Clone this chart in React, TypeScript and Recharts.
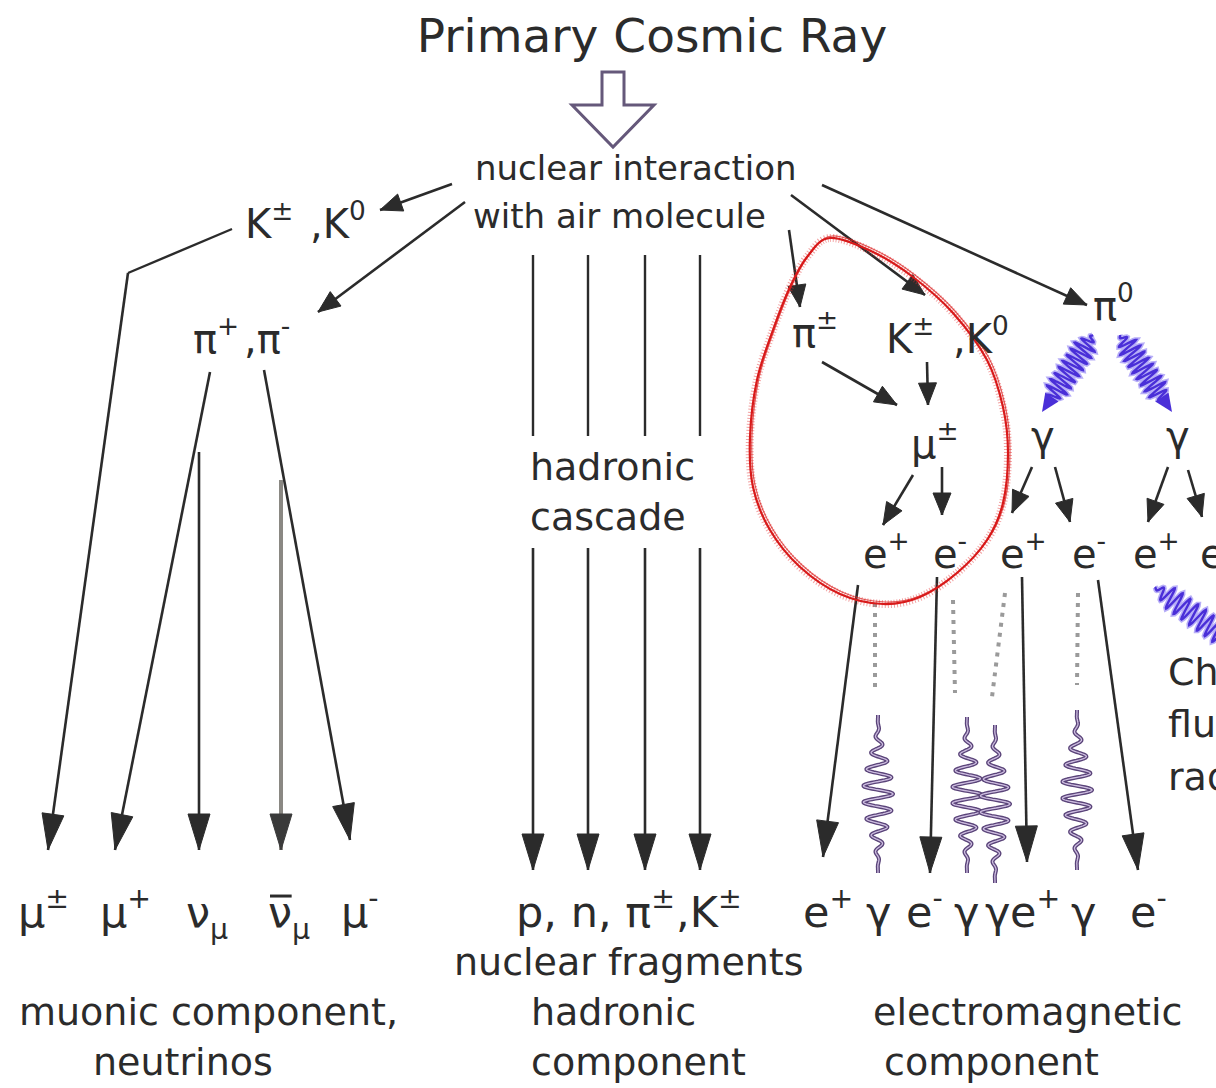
import React from "react";
import { ReferenceLine, Scatter, ScatterChart, XAxis, YAxis } from "recharts";

// Diagram space is 1216 x 1088, y grows downward (the y axis is reversed).
const WIDTH = 1216;
const HEIGHT = 1088;
const FONT = '"DejaVu Sans", "Liberation Sans", sans-serif';
const INK = "#2b2b2b";

type Role = "title" | "lead" | "node" | "product" | "caption";

interface Label {
  x: number;
  y: number;
  text: string;
  role: Role;
  sup?: string;
  sub?: string;
  bar?: boolean;
  anchor?: "start" | "middle";
}

type Segment = [number, number, number, number];

const FONT_SIZE: Record<Role, number> = {
  title: 47,
  lead: 34,
  node: 40,
  product: 43,
  caption: 38,
};

const TITLE_LABELS: Label[] = [
  { x: 652, y: 52, text: "Primary Cosmic Ray", role: "title", anchor: "middle" },
  { x: 475, y: 180, text: "nuclear interaction", role: "lead" },
  { x: 473, y: 228, text: "with air molecule", role: "lead" },
];

const SECONDARY_LABELS: Label[] = [
  { x: 245, y: 238, text: "K", sup: "±", role: "node" },
  { x: 310, y: 238, text: ",K", sup: "0", role: "node" },
  { x: 193, y: 353, text: "π", sup: "+", role: "node" },
  { x: 244, y: 353, text: ",π", sup: "-", role: "node" },
  { x: 792, y: 347, text: "π", sup: "±", role: "node" },
  { x: 886, y: 353, text: "K", sup: "±", role: "node" },
  { x: 953, y: 353, text: ",K", sup: "0", role: "node" },
  { x: 1093, y: 320, text: "π", sup: "0", role: "node" },
  { x: 911, y: 458, text: "μ", sup: "±", role: "node" },
  { x: 1031, y: 450, text: "γ", role: "node" },
  { x: 1166, y: 450, text: "γ", role: "node" },
  { x: 863, y: 568, text: "e", sup: "+", role: "node" },
  { x: 933, y: 568, text: "e", sup: "-", role: "node" },
  { x: 1000, y: 568, text: "e", sup: "+", role: "node" },
  { x: 1072, y: 568, text: "e", sup: "-", role: "node" },
  { x: 1133, y: 568, text: "e", sup: "+", role: "node" },
  { x: 1200, y: 568, text: "e", sup: "-", role: "node" },
  { x: 530, y: 480, text: "hadronic", role: "caption" },
  { x: 530, y: 530, text: "cascade", role: "caption" },
  { x: 1168, y: 685, text: "Cherenkov", role: "caption" },
  { x: 1168, y: 737, text: "fluorescence", role: "caption" },
  { x: 1168, y: 790, text: "radiation", role: "caption" },
];

const PRODUCT_LABELS: Label[] = [
  { x: 18, y: 927, text: "μ", sup: "±", role: "product" },
  { x: 100, y: 927, text: "μ", sup: "+", role: "product" },
  { x: 186, y: 927, text: "ν", sub: "μ", role: "product" },
  { x: 268, y: 927, text: "ν", sub: "μ", bar: true, role: "product" },
  { x: 341, y: 927, text: "μ", sup: "-", role: "product" },
  { x: 516, y: 927, text: "p, n, π", sup: "±", role: "product" },
  { x: 676, y: 927, text: ",K", sup: "±", role: "product" },
  { x: 803, y: 927, text: "e", sup: "+", role: "product" },
  { x: 866, y: 927, text: "γ", role: "product" },
  { x: 906, y: 927, text: "e", sup: "-", role: "product" },
  { x: 954, y: 927, text: "γ", role: "product" },
  { x: 985, y: 927, text: "γ", role: "product" },
  { x: 1010, y: 927, text: "e", sup: "+", role: "product" },
  { x: 1071, y: 927, text: "γ", role: "product" },
  { x: 1130, y: 927, text: "e", sup: "-", role: "product" },
];

const COMPONENT_LABELS: Label[] = [
  { x: 454, y: 975, text: "nuclear fragments", role: "caption" },
  { x: 19, y: 1025, text: "muonic component,", role: "caption" },
  { x: 93, y: 1075, text: "neutrinos", role: "caption" },
  { x: 531, y: 1025, text: "hadronic", role: "caption" },
  { x: 531, y: 1075, text: "component", role: "caption" },
  { x: 873, y: 1025, text: "electromagnetic", role: "caption" },
  { x: 884, y: 1075, text: "component", role: "caption" },
];

// plain connecting lines, no arrowhead
const PLAIN_LINES: Segment[] = [
  [232, 229, 128, 273],
  [533, 255, 533, 436],
  [588, 255, 588, 436],
  [645, 255, 645, 436],
  [700, 255, 700, 436],
];

// short decay arrows near the top of the shower
const SHORT_ARROWS: Segment[] = [
  [452, 184, 380, 210],
  [465, 202, 318, 312],
  [789, 230, 800, 307],
  [791, 195, 925, 295],
  [822, 185, 1087, 305],
  [822, 362, 897, 405],
  [927, 362, 928, 405],
  [913, 475, 883, 525],
  [942, 467, 942, 515],
  [1032, 467, 1012, 513],
  [1055, 467, 1070, 522],
  [1168, 467, 1148, 522],
  [1188, 470, 1202, 517],
];

// long arrows down to the ground-level products
const LONG_ARROWS: Segment[] = [
  [128, 273, 48, 850],
  [210, 372, 115, 850],
  [199, 452, 199, 850],
  [264, 370, 350, 840],
  [533, 548, 533, 870],
  [588, 548, 588, 870],
  [645, 548, 645, 870],
  [700, 548, 700, 870],
  [858, 585, 823, 857],
  [937, 577, 930, 873],
  [1022, 577, 1027, 862],
  [1098, 580, 1138, 870],
];

const FAINT_ARROWS: Segment[] = [[281, 480, 281, 850]];

const DOTTED_LINES: Segment[] = [
  [875, 603, 875, 693],
  [953, 600, 955, 693],
  [1005, 593, 992, 697],
  [1078, 593, 1077, 685],
];

const PHOTON_PACKETS: Segment[] = [
  [878, 715, 878, 873],
  [967, 717, 967, 873],
  [995, 725, 995, 883],
  [1077, 710, 1077, 870],
];

const PION_DECAY_PHOTONS: Segment[] = [
  [1093, 335, 1042, 412],
  [1120, 335, 1172, 412],
];

const CHERENKOV_PHOTON: Segment[] = [[1155, 587, 1240, 648]];

const HOLLOW_ARROW: Segment[] = [[613, 72, 613, 147]];

const LOOP_OUTLINE: [number, number][] = [
  [830, 238], [873, 252], [913, 277], [953, 313], [987, 360], [1003, 407],
  [1008, 453], [1003, 503], [987, 540], [957, 573], [920, 597], [883, 604],
  [840, 594], [800, 567], [770, 530], [753, 487], [750, 437], [757, 380],
  [773, 330], [790, 287], [807, 257],
];

const toPoint = ([x, y, x2, y2]: Segment) => ({ x, y, x2, y2 });

function LabelShape(props: any) {
  const { cx, cy, payload } = props;
  const l = payload as Label;
  const size = FONT_SIZE[l.role];
  const small = size * 0.66;
  return (
    <g>
      <text
        x={cx}
        y={cy}
        fontFamily={FONT}
        fontSize={size}
        fill={INK}
        textAnchor={l.anchor ?? "start"}
      >
        <tspan>{l.text}</tspan>
        {l.sup ? (
          <tspan fontSize={small} dy={-size * 0.45}>
            {l.sup}
          </tspan>
        ) : null}
        {l.sub ? (
          <tspan fontSize={small} dy={size * 0.28}>
            {l.sub}
          </tspan>
        ) : null}
      </text>
      {l.bar ? (
        <line
          x1={cx + 2}
          x2={cx + size * 0.55}
          y1={cy - size * 0.72}
          y2={cy - size * 0.72}
          stroke={INK}
          strokeWidth={3}
        />
      ) : null}
    </g>
  );
}

function headPolygon(cx: number, cy: number, dx: number, dy: number, len: number, half: number) {
  const d = Math.hypot(dx, dy) || 1;
  const ux = dx / d;
  const uy = dy / d;
  const bx = cx - ux * len;
  const by = cy - uy * len;
  return `${cx},${cy} ${bx - uy * half},${by + ux * half} ${bx + uy * half},${by - ux * half}`;
}

// arrowhead drawn at the segment's end point (x2, y2)
function makeHead(len: number, half: number, fill: string) {
  return function HeadShape(props: any) {
    const { cx, cy, payload } = props;
    const dx = payload.x2 - payload.x;
    const dy = payload.y2 - payload.y;
    const tx = cx + dx;
    const ty = cy + dy;
    return <polygon points={headPolygon(tx, ty, dx, dy, len, half)} fill={fill} stroke={fill} strokeWidth={1} />;
  };
}

function wavePoints(
  x: number,
  y: number,
  dx: number,
  dy: number,
  cycles: number,
  amp: number,
  steps: number,
  packet: boolean,
) {
  const len = Math.hypot(dx, dy) || 1;
  const px = -dy / len;
  const py = dx / len;
  const pts: string[] = [];
  for (let i = 0; i <= steps; i++) {
    const t = i / steps;
    const env = packet ? Math.pow(Math.sin(Math.PI * t), 2) : Math.min(1, t * 6, (1 - t) * 6);
    const a = amp * env * Math.sin(2 * Math.PI * cycles * t);
    pts.push(`${(x + dx * t + px * a).toFixed(1)},${(y + dy * t + py * a).toFixed(1)}`);
  }
  return pts.join(" ");
}

function PacketShape(props: any) {
  const { cx, cy, payload } = props;
  const pts = wavePoints(cx, cy, payload.x2 - payload.x, payload.y2 - payload.y, 9.5, 15, 240, true);
  return (
    <g fill="none" strokeLinejoin="round">
      <polyline points={pts} stroke="#5a4479" strokeWidth={4} />
      <polyline points={pts} stroke="#cdbde0" strokeWidth={1.3} />
    </g>
  );
}

function ZigzagShape(props: any) {
  const { cx, cy, payload } = props;
  const dx = payload.x2 - payload.x;
  const dy = payload.y2 - payload.y;
  const d = Math.hypot(dx, dy);
  const endX = cx + (dx / d) * (d - 12);
  const endY = cy + (dy / d) * (d - 12);
  const pts = wavePoints(cx, cy, endX - cx, endY - cy, 11, 11, 180, false);
  return (
    <g fill="none" strokeLinejoin="miter">
      <polyline points={pts} stroke="#7b6cf0" strokeWidth={5.5} opacity={0.55} />
      <polyline points={pts} stroke="#4a2fd8" strokeWidth={2.4} />
      <polygon points={headPolygon(cx + dx, cy + dy, dx, dy, 18, 8)} fill="#4a2fd8" />
    </g>
  );
}

function OpenWaveShape(props: any) {
  const { cx, cy, payload } = props;
  const pts = wavePoints(cx, cy, payload.x2 - payload.x, payload.y2 - payload.y, 11, 11, 180, false);
  return (
    <g fill="none">
      <polyline points={pts} stroke="#7b6cf0" strokeWidth={5.5} opacity={0.55} />
      <polyline points={pts} stroke="#4a2fd8" strokeWidth={2.4} />
    </g>
  );
}

function HollowArrowShape(props: any) {
  const { cx, cy, payload } = props;
  const tip = cy + (payload.y2 - payload.y);
  const neck = tip - 42;
  const pts = [
    [cx - 11, cy], [cx + 11, cy], [cx + 11, neck], [cx + 41, neck],
    [cx, tip], [cx - 41, neck], [cx - 11, neck],
  ]
    .map((p) => p.join(","))
    .join(" ");
  return <polygon points={pts} fill="#ffffff" stroke="#65587a" strokeWidth={3} strokeLinejoin="miter" />;
}

function loopPath(pts: [number, number][]) {
  const n = pts.length;
  let d = `M${pts[0][0]},${pts[0][1]}`;
  for (let i = 0; i < n; i++) {
    const p0 = pts[(i - 1 + n) % n];
    const p1 = pts[i];
    const p2 = pts[(i + 1) % n];
    const p3 = pts[(i + 2) % n];
    const c1x = p1[0] + (p2[0] - p0[0]) / 6;
    const c1y = p1[1] + (p2[1] - p0[1]) / 6;
    const c2x = p2[0] - (p3[0] - p1[0]) / 6;
    const c2y = p2[1] - (p3[1] - p1[1]) / 6;
    d += ` C${c1x.toFixed(1)},${c1y.toFixed(1)} ${c2x.toFixed(1)},${c2y.toFixed(1)} ${p2[0]},${p2[1]}`;
  }
  return d + "Z";
}

function LoopShape(props: any) {
  const { cx, cy, payload } = props;
  const ox = cx - payload.x;
  const oy = cy - payload.y;
  const pts = LOOP_OUTLINE.map(([x, y]) => [x + ox, y + oy] as [number, number]);
  const d = loopPath(pts);
  return (
    <g fill="none">
      <path d={d} stroke="#e23030" strokeWidth={8} opacity={0.45} strokeDasharray="1 2" />
      <path d={d} stroke="#d81a1a" strokeWidth={2.2} />
      <path d={d} stroke="#d81a1a" strokeWidth={1.2} transform="translate(2 -2)" opacity={0.7} />
    </g>
  );
}

function segmentLines(list: Segment[], stroke: string, width: number, dash?: string) {
  return list.map(([x1, y1, x2, y2], i) => (
    <ReferenceLine
      key={`${stroke}-${width}-${i}-${x1}-${y1}`}
      segment={[
        { x: x1, y: y1 },
        { x: x2, y: y2 },
      ]}
      stroke={stroke}
      strokeWidth={width}
      strokeDasharray={dash}
      ifOverflow="visible"
    />
  ));
}

const ShortHead = makeHead(22, 9, INK);
const LongHead = makeHead(36, 11, INK);
const FaintHead = makeHead(36, 11, "#3a3a3a");

export default function App() {
  const labels = [...TITLE_LABELS, ...SECONDARY_LABELS, ...PRODUCT_LABELS, ...COMPONENT_LABELS];
  return (
    <div style={{ position: "absolute", left: 0, top: 0, width: WIDTH, height: HEIGHT, background: "#ffffff" }}>
      <ScatterChart width={WIDTH} height={HEIGHT} margin={{ top: 0, right: 0, bottom: 0, left: 0 }}>
        <XAxis type="number" dataKey="x" domain={[0, WIDTH]} hide allowDataOverflow />
        <YAxis type="number" dataKey="y" domain={[0, HEIGHT]} reversed hide allowDataOverflow />
        {segmentLines(PLAIN_LINES, INK, 2.4)}
        {segmentLines(SHORT_ARROWS, INK, 2.6)}
        {segmentLines(LONG_ARROWS, INK, 2.6)}
        {segmentLines(FAINT_ARROWS, "#8a8883", 4)}
        {segmentLines(DOTTED_LINES, "#9a9a9a", 4, "4 6")}
        <Scatter data={SHORT_ARROWS.map(toPoint)} shape={ShortHead} isAnimationActive={false} />
        <Scatter data={LONG_ARROWS.map(toPoint)} shape={LongHead} isAnimationActive={false} />
        <Scatter data={FAINT_ARROWS.map(toPoint)} shape={FaintHead} isAnimationActive={false} />
        <Scatter data={PHOTON_PACKETS.map(toPoint)} shape={PacketShape} isAnimationActive={false} />
        <Scatter data={PION_DECAY_PHOTONS.map(toPoint)} shape={ZigzagShape} isAnimationActive={false} />
        <Scatter data={CHERENKOV_PHOTON.map(toPoint)} shape={OpenWaveShape} isAnimationActive={false} />
        <Scatter data={HOLLOW_ARROW.map(toPoint)} shape={HollowArrowShape} isAnimationActive={false} />
        <Scatter data={[{ x: LOOP_OUTLINE[0][0], y: LOOP_OUTLINE[0][1] }]} shape={LoopShape} isAnimationActive={false} />
        <Scatter data={labels} shape={LabelShape} isAnimationActive={false} />
      </ScatterChart>
    </div>
  );
}
